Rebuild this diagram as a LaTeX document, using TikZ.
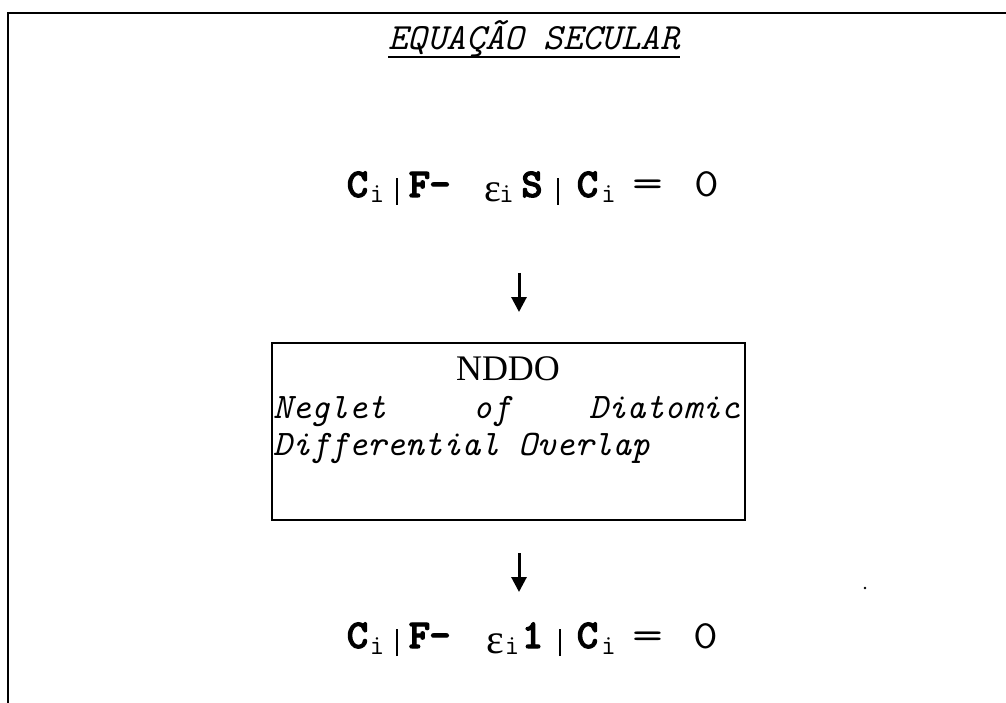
\documentclass[tikz,border=0pt]{standalone}
\usepackage{fontspec}
\setmainfont{Liberation Serif}
\newfontfamily\lmbold{lmmonolt10-bold.otf}[FakeBold=2.5]
\usetikzlibrary{arrows.meta}

% place a glyph centred #1pt to the right of the previous one
\newcommand\gp[2]{\hskip#1pt\makebox[0pt]{#2}}
\newcommand\bd[1]{{\lmbold\fontsize{41}{41}\selectfont #1}}
\newcommand\sub[1]{\raisebox{-6pt}{\ttfamily\fontsize{28}{28}\selectfont #1}}
\newcommand\rg[1]{{\ttfamily\fontsize{40}{40}\selectfont #1}}
\newcommand\eps[2]{\raisebox{-#2pt}{\fontsize{#1}{#1}\selectfont ε}}
\newcommand\vbar{\rule[-8pt]{2pt}{27pt}}

\tikzset{
  frame/.style={line width=2pt},
  flowarrow/.style={line width=3pt, -{Triangle[width=15pt,length=15pt]}},
  eqn/.style={anchor=base, inner sep=0pt},
  boxtext/.style={inner sep=0pt, font=\ttfamily\itshape\fontsize{35.9}{35.9}\selectfont},
}

\begin{document}
\begin{tikzpicture}[x=1pt, y=-1pt]
  \useasboundingbox (0,0) rectangle (1006,703);

  % open frame: top and left edges
  \draw[frame] (1006,13) -- (8,13) -- (8,703);

  % heading
  \node[anchor=base, inner sep=0pt, font=\ttfamily\itshape\fontsize{37}{37}\selectfont]
    (title) at (534,50) {EQUAÇÃO SECULAR};
  \draw[line width=1.6pt] ([yshift=-7pt]title.base west) -- ([yshift=-7pt]title.base east);

  % secular equation
  \node[eqn] (eqS) at (530,197) {\hbox to 374pt{%
    \gp{14.5}{\bd{C}}\gp{19.5}{\sub{i}}\gp{20}{\vbar}\gp{22.5}{\bd{F}}\gp{20.5}{\bd{-}}%
    \gp{52.5}{\eps{40}{5}}\gp{14}{\sub{i}}\gp{25.5}{\bd{S}}\gp{26}{\vbar}%
    \gp{29.5}{\bd{C}}\gp{21}{\sub{i}}\gp{39.5}{\scalebox{1.5}[1]{\rg{=}}}\gp{59}{\scalebox{1.2}[1]{\rg{0}}}\hfil}};

  % NDDO approximation box
  \node[draw, line width=1.8pt, minimum width=473pt, minimum height=177pt, inner sep=0pt]
    (nddo) at (508.5,431.5) {};
  \node[anchor=base, inner sep=0pt, font=\fontsize{36}{36}\selectfont] (nddoname) at (508,380) {NDDO};
  \node[boxtext, anchor=base west] (w1) at (273,418) {Neglet};
  \node[boxtext, anchor=base west] (w2) at (473,418) {of};
  \node[boxtext, anchor=base east] (w3) at (740,418) {Diatomic};
  \node[boxtext, anchor=base west] (w4) at (273,455) {Differential Overlap};

  % reduced equation
  \node[eqn] (eqI) at (530,648) {\hbox to 374pt{%
    \gp{14.5}{\bd{C}}\gp{19.5}{\sub{i}}\gp{20}{\vbar}\gp{22.5}{\bd{F}}\gp{20.5}{\bd{-}}%
    \gp{55}{\eps{42}{5}}\gp{17}{\sub{i}}\gp{20.5}{\bd{1}}\gp{27.5}{\vbar}%
    \gp{27.5}{\bd{C}}\gp{21}{\sub{i}}\gp{39.5}{\scalebox{1.5}[1]{\rg{=}}}\gp{58}{\scalebox{1.2}[1]{\rg{0}}}\hfil}};

  % arrows between the stages
  \coordinate (a1top) at (519,273);
  \coordinate (a1tip) at (519,312);
  \coordinate (a2top) at (519,553);
  \coordinate (a2tip) at (519,592);
  \draw[flowarrow] (a1top) -- (a1tip);
  \draw[flowarrow] (a2top) -- (a2tip);

  % small speck right of the lower arrow
  \fill (865,588) circle (1.4pt);
\end{tikzpicture}
\end{document}
